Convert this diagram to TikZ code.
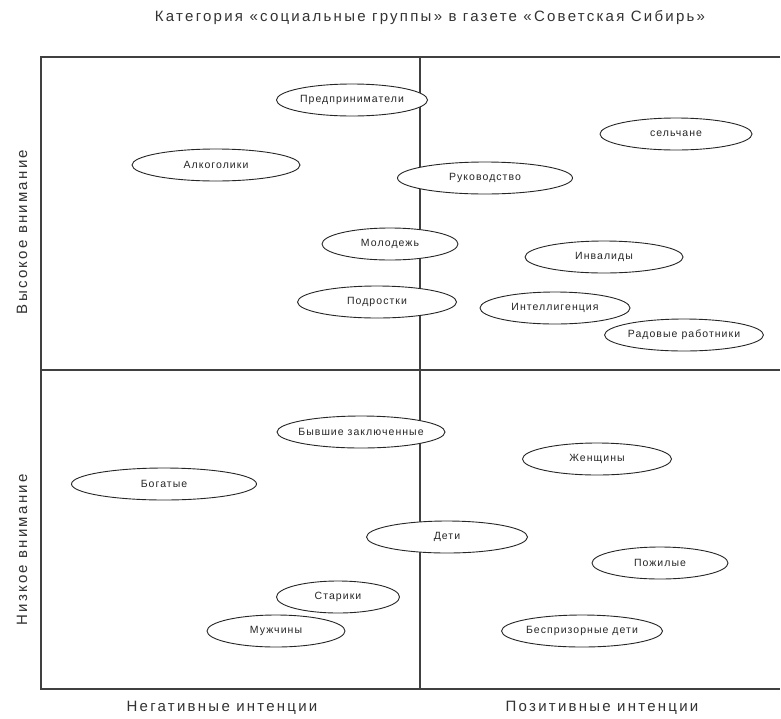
\documentclass[tikz,border=0pt]{standalone}
\usepackage{fontspec}
\setmainfont{Liberation Sans}
\usetikzlibrary{shapes.geometric}
\tikzset{
  grp/.style={ellipse, draw=black!85, line width=0.9pt, inner sep=0pt, minimum height=32pt, font=\fontsize{10.5}{12}\selectfont\addfontfeature{LetterSpace=10}, text=black!85},
  axisline/.style={draw=black!75, line width=1.4pt},
  axlabel/.style={font=\fontsize{15}{17}\selectfont\addfontfeature{LetterSpace=15}, text=black!80, inner sep=0pt},
}
\begin{document}
\begin{tikzpicture}[x=1pt,y=-1pt]
\useasboundingbox[fill=white] (0,0) rectangle (781,718);
% frame
\coordinate (tl) at (41,57);
\coordinate (tr) at (780,57);
\coordinate (bl) at (41,689);
\coordinate (br) at (780,689);
\coordinate (vt) at (420,57);
\coordinate (vb) at (420,689);
\coordinate (hl) at (41,370);
\coordinate (hr) at (780,370);
\draw[axisline] (tr) -- (tl) -- (bl) -- (br);
\draw[axisline] (vt) -- (vb);
\draw[axisline] (hl) -- (hr);
% title and axis labels
\node[axlabel] (title) at (430,18) {Категория «социальные группы» в газете «Советская Сибирь»};
\node[axlabel] (neg) at (222,708) {Негативные интенции};
\node[axlabel] (pos) at (602,708) {Позитивные интенции};
\node[axlabel, rotate=90] (high) at (22,232) {Высокое внимание};
\node[axlabel, rotate=90] (low) at (22,550) {Низкое внимание};
% groups
\node[grp, minimum width=151pt, fill=white] (pred) at (352,100) {Предприниматели};
\node[grp, minimum width=168pt] (alko) at (216,165) {Алкоголики};
\node[grp, minimum width=175pt, fill=white] (ruk) at (485,178) {Руководство};
\node[grp, minimum width=152pt] (sel) at (676,134) {сельчане};
\node[grp, minimum width=136pt, fill=white] (mol) at (390,244) {Молодежь};
\node[grp, minimum width=158pt] (inv) at (604,257) {Инвалиды};
\node[grp, minimum width=159pt, fill=white] (podr) at (377,302) {Подростки};
\node[grp, minimum width=150pt] (intel) at (555,308) {Интеллигенция};
\node[grp, minimum width=158pt] (ryad) at (684,335) {Радовые работники};
\node[grp, minimum width=168pt, inner xsep=-4pt, fill=white] (byv) at (361,432) {Бывшие заключенные};
\node[grp, minimum width=185pt] (bog) at (164,484) {Богатые};
\node[grp, minimum width=149pt] (zhen) at (597,459) {Женщины};
\node[grp, minimum width=161pt, fill=white] (deti) at (447,537) {Дети};
\node[grp, minimum width=136pt] (pozh) at (660,563) {Пожилые};
\node[grp, minimum width=123pt] (star) at (338,597) {Старики};
\node[grp, minimum width=138pt] (muzh) at (276,631) {Мужчины};
\node[grp, minimum width=161pt, inner xsep=-2pt] (besp) at (582,631) {Беспризорные дети};
\end{tikzpicture}
\end{document}
